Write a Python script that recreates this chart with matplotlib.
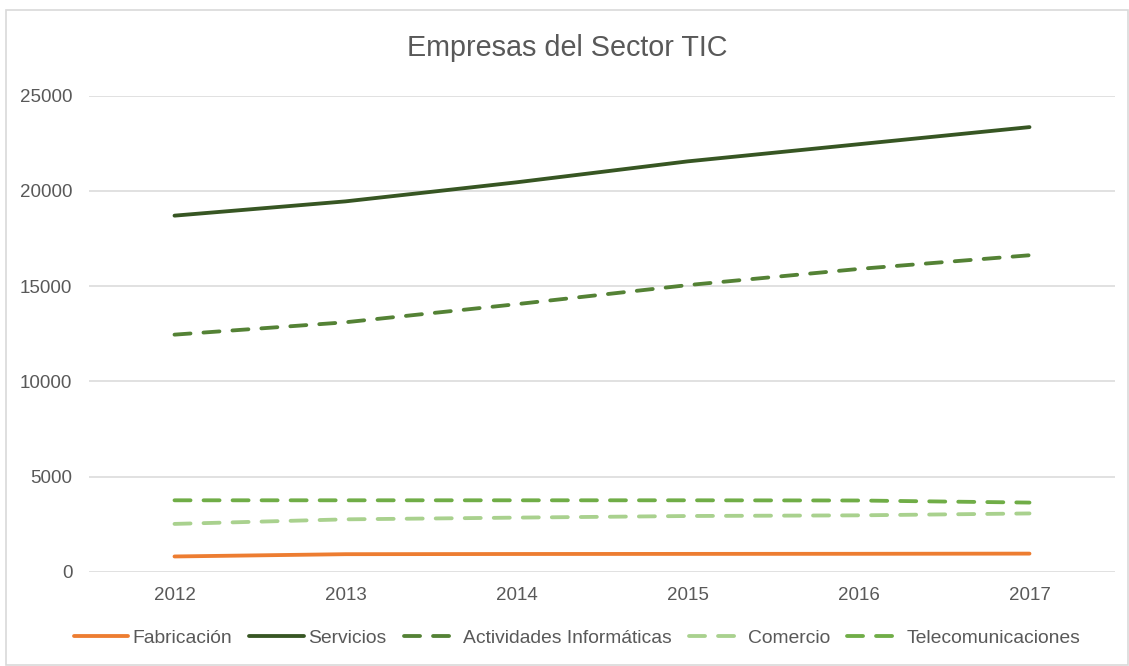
import matplotlib

matplotlib.use("Agg")
import matplotlib.pyplot as plt
from matplotlib.patches import Rectangle

plt.rcParams["font.family"] = ["Liberation Sans", "DejaVu Sans"]

years = ["2012", "2013", "2014", "2015", "2016", "2017"]
fabricacion = [800, 920, 930, 935, 940, 950]
servicios = [18700, 19450, 20450, 21550, 22450, 23350]
actividades = [12450, 13100, 14050, 15050, 15900, 16620]
comercio = [2510, 2750, 2840, 2925, 2960, 3060]
telecom = [3750, 3750, 3750, 3750, 3740, 3630]

GRAY = "#595959"
GRID = "#D9D9D9"

fig = plt.figure(figsize=(11.29, 6.66), dpi=100)
fig.patches.append(Rectangle((6 / 1129, 1 / 666), 1122 / 1129, 655 / 666,
                             transform=fig.transFigure, fill=False,
                             edgecolor=GRID, lw=1.2))
ax = fig.add_axes([89 / 1129, 94.3 / 666, 1026 / 1129, 476 / 666])

x = range(len(years))
lw = 2.75
ax.plot(x, fabricacion, color="#ED7D31", lw=lw, solid_capstyle="round", label="Fabricación")
ax.plot(x, servicios, color="#375623", lw=lw, solid_capstyle="round", label="Servicios")
ax.plot(x, actividades, color="#548235", lw=lw, dashes=(4.2, 3.4),
        dash_capstyle="round", label="Actividades Informáticas")
ax.plot(x, comercio, color="#A9D18E", lw=lw, dashes=(4.2, 3.4),
        dash_capstyle="round", label="Comercio")
ax.plot(x, telecom, color="#70AD47", lw=lw, dashes=(4.2, 3.4),
        dash_capstyle="round", label="Telecomunicaciones")

ax.set_xlim(-0.5, len(years) - 0.5)
ax.set_ylim(0, 25000)
ax.set_yticks(range(0, 25001, 5000))
ax.set_xticks(list(x))
ax.set_xticklabels(years)
ax.yaxis.grid(True, color=GRID, lw=1.1)
ax.set_axisbelow(True)
for s in ax.spines.values():
    s.set_visible(False)
ax.tick_params(axis="both", length=0, labelsize=13.5, labelcolor=GRAY)
ax.tick_params(axis="y", pad=12)
ax.tick_params(axis="x", pad=11)

fig.text(0.502, 1 - 48 / 666, "Empresas del Sector TIC", ha="center", va="center",
         fontsize=20.7, color=GRAY)

leg = fig.legend(loc="center", bbox_to_anchor=(0.511, 28 / 666), ncol=5, frameon=False,
                 fontsize=13.9, handlelength=2.8, handletextpad=0.25, columnspacing=0.9,
                 borderaxespad=0)
for t in leg.get_texts():
    t.set_color(GRAY)

fig.savefig("out.png", dpi=100)
